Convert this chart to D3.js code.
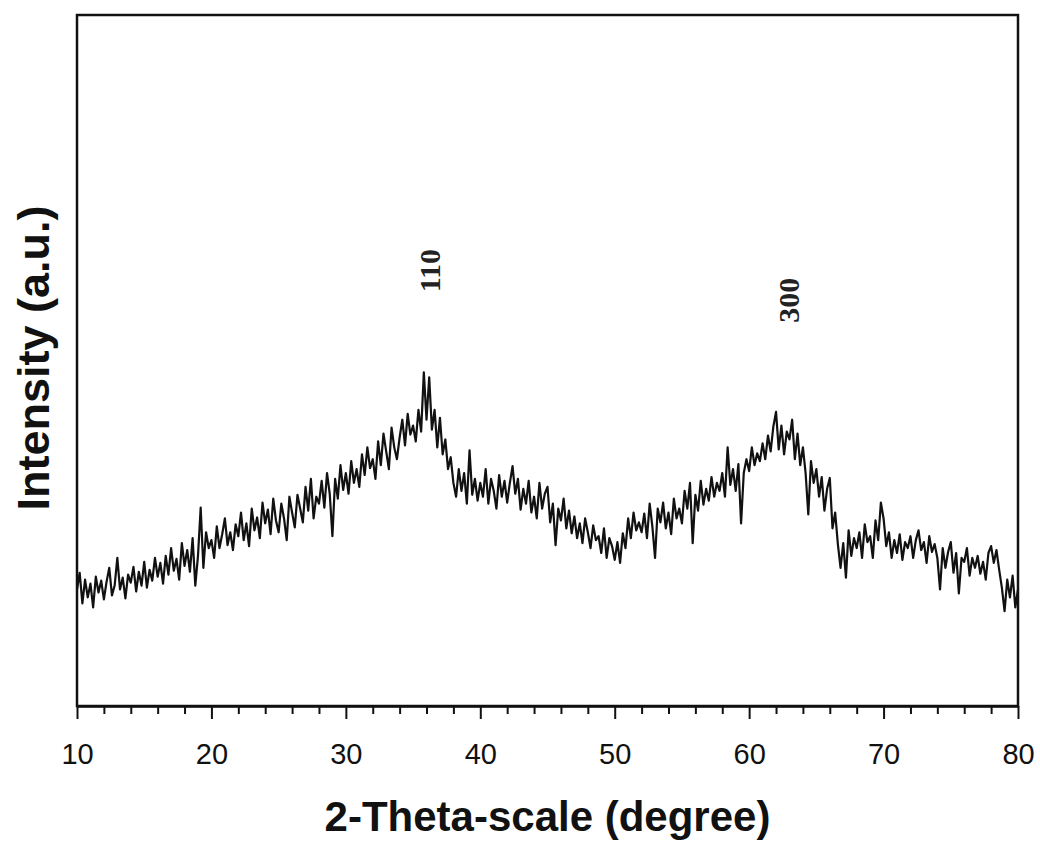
<!DOCTYPE html>
<html>
<head>
<meta charset="utf-8">
<script src="https://cdn.jsdelivr.net/npm/d3@7"></script>
<style>
  body { margin: 0; background: #fff; }
</style>
</head>
<body>
<svg id="chart" width="1040" height="842"></svg>
<script>
// XRD pattern, 2-theta from 10 to 80 in 0.2 degree steps (5 points per degree)
let thetaStart = 10;
let thetaStep = 0.2;
let intensity = [
    118, 135, 104, 128, 110,
    124, 100, 131, 115, 127,
    108, 126, 140, 112, 122,
    150, 118, 130, 109, 133,
    125, 141, 116, 136, 122,
    146, 120, 138, 127, 150,
    131, 145, 124, 152, 133,
    160, 137, 149, 128, 165,
    142, 158, 136, 170, 122,
    152, 201, 140, 176, 160,
    168, 150, 182, 160, 174,
    190, 163, 176, 158, 184,
    172, 196, 168, 185, 162,
    200, 178, 191, 170, 206,
    185, 199, 174, 210, 188,
    176, 205, 190, 168, 212,
    196, 181, 214, 200, 186,
    222, 198, 230, 190, 212,
    205, 228, 201, 236, 215,
    172, 230, 210, 244, 219,
    236, 215, 248, 226, 240,
    222, 255, 234, 262, 241,
    250, 230, 268, 244, 276,
    258, 240, 282, 262, 250,
    272, 290, 264, 296, 275,
    284, 268, 300, 278, 338,
    290, 333, 280, 300, 262,
    292, 255, 270, 240, 252,
    226, 212, 240, 218, 236,
    205, 259, 214, 230, 208,
    226, 212, 240, 205, 230,
    218, 200, 234, 212, 228,
    206, 226, 243, 215, 230,
    199, 220, 205, 228, 196,
    212, 190, 226, 200, 215,
    222, 186, 205, 163, 200,
    188, 210, 180, 198, 175,
    192, 170, 185, 165, 190,
    176, 160, 183, 168, 172,
    155, 180, 150, 170, 162,
    148, 166, 145, 175, 160,
    190, 170, 196, 178, 186,
    176, 195, 170, 205, 182,
    150, 200, 186, 206, 180,
    196, 174, 210, 190, 200,
    185, 218, 200, 226, 165,
    214, 198, 228, 204, 220,
    208, 232, 212, 226, 218,
    236, 212, 262, 224, 240,
    218, 245, 185, 236, 250,
    238, 262, 244, 256, 248,
    266, 250, 274, 258, 283,
    298, 260, 284, 255, 278,
    270, 290, 250, 276, 244,
    262, 236, 194, 248, 226,
    240, 212, 232, 198, 220,
    231, 180, 196, 164, 140,
    165, 130, 178, 152, 170,
    160, 176, 150, 184, 166,
    172, 150, 188, 168, 206,
    190, 162, 176, 150, 168,
    155, 174, 148, 166, 160,
    172, 150, 168, 178, 158,
    166, 145, 172, 156, 164,
    150, 118, 160, 140, 156,
    166, 135, 155, 114, 150,
    146, 160, 132, 150, 140,
    152, 134, 146, 128, 155,
    162, 145, 158, 138, 120,
    96, 128, 110, 132, 100,
    118
];

let xTicks = d3.range(10, 81, 2);
let xLabels = [10, 20, 30, 40, 50, 60, 70, 80];

// peak annotations (hkl)
let peakLabels = ["110", "300"];
let peakTheta = [36.2, 62.9];
let peakHeight = [441, 411];

let margin = { top: 15, right: 22, bottom: 136, left: 77 };

let svg = d3.select("#chart");
let width = +svg.attr("width") - margin.left - margin.right;
let height = +svg.attr("height") - margin.top - margin.bottom;

let points = intensity.map((v, i) => ({ theta: thetaStart + i * thetaStep, value: v }));

let x = d3.scaleLinear().domain([10, 80]).range([0, width]);
let y = d3.scaleLinear().domain([0, 700]).range([height, 0]);

let g = svg.append("g")
    .attr("transform", "translate(" + margin.left + "," + margin.top + ")");

// frame
g.append("rect")
    .attr("x", 0)
    .attr("y", 0)
    .attr("width", width)
    .attr("height", height)
    .attr("fill", "none")
    .attr("stroke", "#111")
    .attr("stroke-width", 2.5);

// x axis, major ticks longer than the minor ones
let xAxis = g.append("g")
    .attr("transform", "translate(0," + height + ")")
    .call(d3.axisBottom(x)
        .tickValues(xTicks)
        .tickSizeOuter(0)
        .tickFormat(d => xLabels.includes(d) ? d : ""));

xAxis.select(".domain")
    .attr("stroke", "#111")
    .attr("stroke-width", 2.5);

xAxis.selectAll(".tick line")
    .attr("stroke", "#111")
    .attr("stroke-width", 2)
    .attr("y2", d => d % 10 === 0 ? 13 : 8);

xAxis.selectAll(".tick text")
    .attr("y", 37)
    .attr("fill", "#111")
    .attr("font-family", "Liberation Sans, Arial, sans-serif")
    .attr("font-size", 29);

// pattern
let line = d3.line()
    .x(d => x(d.theta))
    .y(d => y(d.value));

g.append("path")
    .datum(points)
    .attr("fill", "none")
    .attr("stroke", "#111")
    .attr("stroke-width", 2.2)
    .attr("stroke-linejoin", "round")
    .attr("d", line);

// peak labels
g.selectAll(".peak")
    .data(peakLabels)
    .enter()
    .append("text")
    .attr("class", "peak")
    .text(d => d)
    .attr("transform", (d, i) => "translate(" + x(peakTheta[i]) + "," + y(peakHeight[i]) + ") rotate(-90)")
    .attr("text-anchor", "middle")
    .attr("dominant-baseline", "central")
    .attr("font-family", "Liberation Serif, Times New Roman, serif")
    .attr("font-weight", "bold")
    .attr("font-size", 30)
    .attr("fill", "#222");

// axis titles
svg.append("text")
    .text("2-Theta-scale (degree)")
    .attr("x", margin.left + width / 2)
    .attr("y", 831)
    .attr("text-anchor", "middle")
    .attr("font-family", "Liberation Sans, Arial, sans-serif")
    .attr("font-weight", "bold")
    .attr("font-size", 42)
    .attr("fill", "#111");

svg.append("text")
    .text("Intensity (a.u.)")
    .attr("transform", "translate(49," + (margin.top + 343) + ") rotate(-90)")
    .attr("text-anchor", "middle")
    .attr("font-family", "Liberation Sans, Arial, sans-serif")
    .attr("font-weight", "bold")
    .attr("font-size", 45)
    .attr("fill", "#111");
</script>
</body>
</html>
